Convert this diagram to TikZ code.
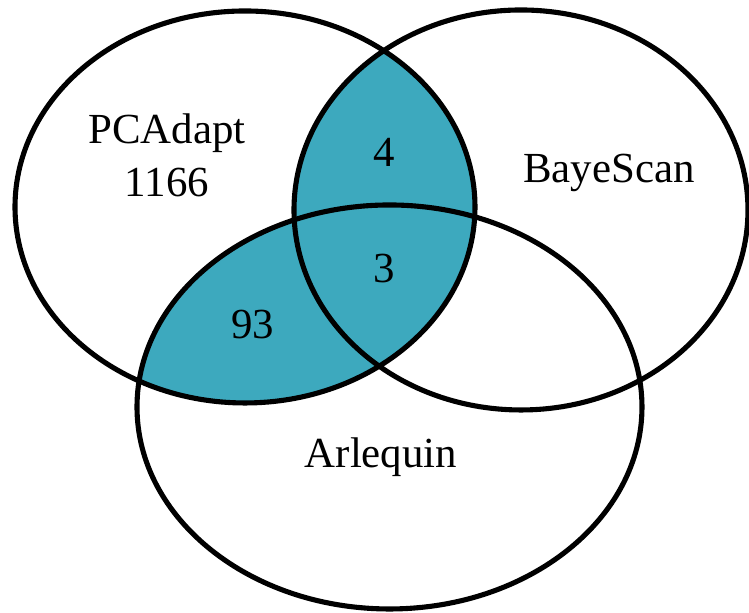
\documentclass[tikz,border=0pt]{standalone}
\usepackage{fontspec}
\setmainfont{Liberation Serif}
\definecolor{vennteal}{RGB}{61,169,190}

\begin{document}
\begin{tikzpicture}

% --- Styles ---
\tikzset{
    setline/.style={draw=black, line width=1.45pt},
    overlap/.style={fill=vennteal},
    setlabel/.style={font=\fontsize{12.2}{14}\selectfont, anchor=base, inner sep=0pt}
}

\useasboundingbox (0, 0) rectangle (7.49, 6.13);

% --- Gekleurde doorsneden: PCAdapt met BayeScan en Arlequin ---
\begin{scope}
    \clip (2.45, 4.06) ellipse (2.30cm and 1.96cm);
    \fill[overlap] (5.21, 4.03) ellipse (2.27cm and 2.00cm);
    \fill[overlap] (3.895, 2.06) ellipse (2.525cm and 2.02cm);
\end{scope}

% --- Randen van de drie verzamelingen ---
\draw[setline] (2.45, 4.06) ellipse (2.30cm and 1.96cm);   % PCAdapt
\draw[setline] (5.21, 4.03) ellipse (2.27cm and 2.00cm);   % BayeScan
\draw[setline] (3.895, 2.06) ellipse (2.525cm and 2.02cm); % Arlequin

% --- Labels ---
\node[setlabel] (pcadapt) at (1.67, 4.69) {PCAdapt};
\node[setlabel] (npca) at (1.67, 4.16) {1166};
\node[setlabel] (bayescan) at (6.09, 4.30) {BayeScan};
\node[setlabel] (arlequin) at (3.81, 1.45) {Arlequin};

% Aantallen in de doorsneden
\node[setlabel] (nab) at (3.84, 4.46) {4};
\node[setlabel] (nabc) at (3.84, 3.30) {3};
\node[setlabel] (nac) at (2.53, 2.74) {93};

\end{tikzpicture}
\end{document}
